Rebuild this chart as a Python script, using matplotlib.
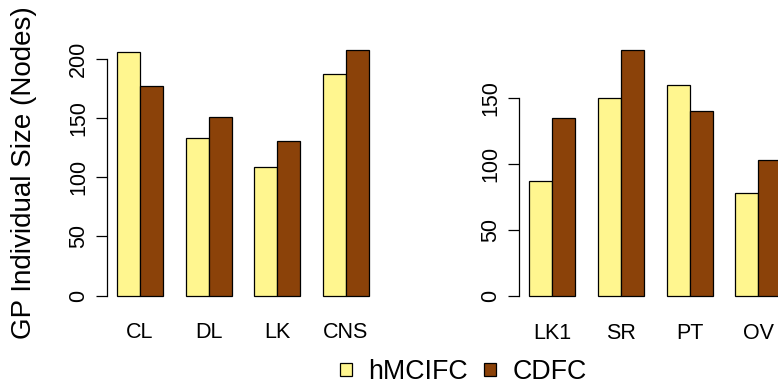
import numpy as np
import matplotlib
matplotlib.use('Agg')
import matplotlib.pyplot as plt
from matplotlib.patches import Patch

plt.rcParams['font.family'] = ['Liberation Sans', 'DejaVu Sans']

# data
left_cats = ['CL', 'DL', 'LK', 'CNS']
left_hmcifc = [206, 133, 109, 187]
left_cdfc = [177, 151, 131, 208]

right_cats = ['LK1', 'SR', 'PT', 'OV']
right_hmcifc = [87, 150, 160, 78]
right_cdfc = [135, 186, 140, 103]

series_names = ['hMCIFC', 'CDFC']
colors = ['#FFF68F', '#8B4209']

fig = plt.figure(figsize=(7.78, 3.87), dpi=100)


def panel(rect, cats, a, b, ticks):
    ax = fig.add_axes(rect)
    n = len(cats)
    # R barplot style: bar width 1, one empty bar between groups
    left = 1 + 3 * np.arange(n)
    ax.bar(left, a, width=1, align='edge', color=colors[0], edgecolor='black', linewidth=0.9)
    ax.bar(left + 1, b, width=1, align='edge', color=colors[1], edgecolor='black', linewidth=0.9)
    top = max(max(a), max(b))
    ax.set_xlim(0.56, 3 * n + 0.44)
    ax.set_ylim(-0.04 * top, top * 1.04)
    for s in ['top', 'right', 'bottom']:
        ax.spines[s].set_visible(False)
    ax.spines['left'].set_bounds(ticks[0], ticks[-1])
    ax.spines['left'].set_linewidth(0.9)
    ax.set_yticks(ticks)
    ax.set_yticklabels([str(t) for t in ticks], rotation=90, va='center', fontsize=15.5)
    ax.tick_params(axis='y', length=8, width=0.9, pad=5)
    ax.set_xticks(left + 1)
    ax.set_xticklabels(cats, fontsize=15.5)
    ax.tick_params(axis='x', length=0, pad=12)
    return ax


ax1 = panel([107 / 778, 0.2106, 272 / 778, 0.6868], left_cats, left_hmcifc, left_cdfc,
            [0, 50, 100, 150, 200])
ax2 = panel([519.3 / 778, 0.2088, 272 / 778, 0.6868], right_cats, right_hmcifc, right_cdfc,
            [0, 50, 100, 150])

fig.text(24 / 778, 1 - 173 / 387, 'GP Individual Size (Nodes)', rotation=90,
         ha='center', va='center', fontsize=20)

handles = [Patch(facecolor=c, edgecolor='black', linewidth=0.9) for c in colors]
fig.legend(handles, series_names, loc='center', bbox_to_anchor=(463 / 778, 1 - 372 / 387),
           ncol=2, frameon=False, fontsize=19.3, handlelength=0.46, handleheight=0.34,
           handletextpad=0.6, columnspacing=0.6, borderpad=0)

fig.savefig('out.png', dpi=100)
